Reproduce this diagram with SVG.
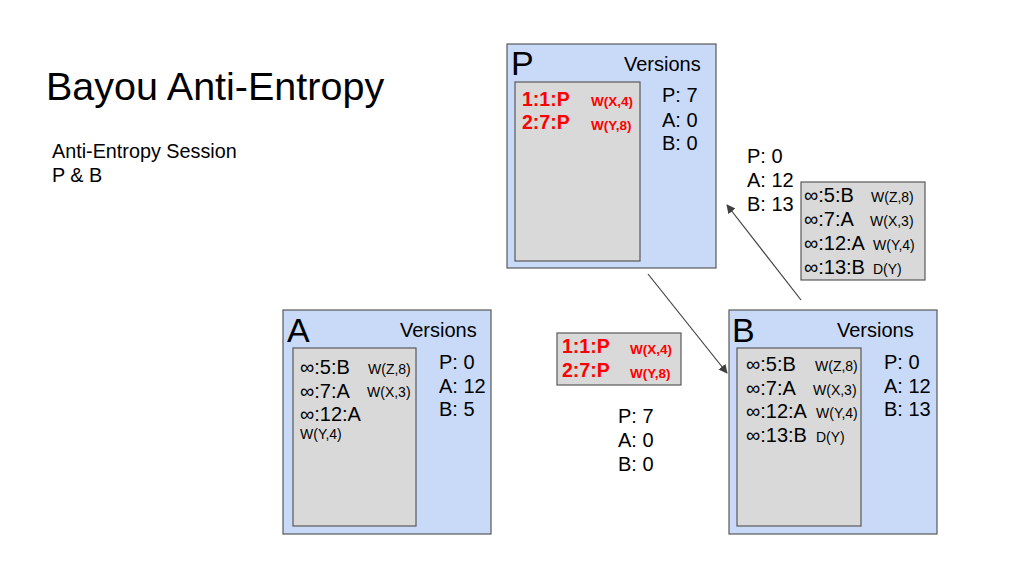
<svg xmlns="http://www.w3.org/2000/svg" width="1024" height="576" viewBox="0 0 1024 576">
<defs>
<style>
text{font-family:"Liberation Sans",Arial,sans-serif;fill:#000}
.outer{fill:#c9daf8;stroke:#595959;stroke-width:1.2}
.inner{fill:#d9d9d9;stroke:#595959;stroke-width:1.2}
.big{font-size:34px}
.ver{font-size:20px}
.e{font-size:20px}
.s{font-size:14px}
.re{font-size:19.5px;font-weight:bold;fill:#ff0000}
.rs{font-size:13.5px;font-weight:bold;fill:#ff0000}
.conn{stroke:#404040;stroke-width:1.2;fill:none}
</style>
<marker id="ah" viewBox="0 0 10 10" refX="9" refY="5" markerWidth="9" markerHeight="9" orient="auto" markerUnits="userSpaceOnUse">
<path d="M0,0 L10,5 L0,10 z" fill="#404040"/>
</marker>
</defs>
<rect width="1024" height="576" fill="#ffffff"/>
<g id="title">
<text x="46" y="100" font-size="39.5">Bayou Anti-Entropy</text>
<text x="52" y="158" font-size="19.8">Anti-Entropy Session</text>
<text x="52" y="182" font-size="19.8">P &amp; B</text>
</g>
<g id="node-P">
<rect class="outer" x="507" y="44" width="209" height="224"/>
<rect class="inner" x="515" y="82" width="125" height="179"/>
<text class="big" x="511" y="75">P</text>
<text class="ver" x="624" y="71">Versions</text>
<text class="re" x="522" y="106">1:1:P</text>
<text class="rs" x="591" y="106">W(X,4)</text>
<text class="re" x="522" y="129">2:7:P</text>
<text class="rs" x="591" y="130">W(Y,8)</text>
<text class="e" x="662" y="102">P: 7</text>
<text class="e" x="662" y="127">A: 0</text>
<text class="e" x="662" y="150">B: 0</text>
</g>
<g id="msg-B-to-P">
<text class="e" x="747" y="163">P: 0</text>
<text class="e" x="747" y="187">A: 12</text>
<text class="e" x="747" y="211">B: 13</text>
<rect class="inner" x="801" y="182" width="124" height="98"/>
<text class="e" x="804" y="202">∞:5:B</text>
<text class="s" x="871" y="202">W(Z,8)</text>
<text class="e" x="804" y="226">∞:7:A</text>
<text class="s" x="870" y="226">W(X,3)</text>
<text class="e" x="804" y="250">∞:12:A</text>
<text class="s" x="873" y="250">W(Y,4)</text>
<text class="e" x="804" y="274">∞:13:B</text>
<text class="s" x="873" y="274">D(Y)</text>
</g>
<g id="node-A">
<rect class="outer" x="283" y="310" width="208" height="224"/>
<rect class="inner" x="293" y="348" width="123" height="178"/>
<text class="big" x="287" y="342">A</text>
<text class="ver" x="400" y="337">Versions</text>
<text class="e" x="439" y="369">P: 0</text>
<text class="e" x="439" y="393">A: 12</text>
<text class="e" x="439" y="416">B: 5</text>
<text class="e" x="300" y="374">∞:5:B</text>
<text class="s" x="368" y="374">W(Z,8)</text>
<text class="e" x="300" y="398">∞:7:A</text>
<text class="s" x="367" y="397">W(X,3)</text>
<text class="e" x="300" y="421">∞:12:A</text>
<text class="s" x="300" y="439">W(Y,4)</text>
</g>
<g id="msg-P-to-B">
<rect class="inner" x="557" y="333" width="124" height="52"/>
<text class="re" x="562" y="353">1:1:P</text>
<text class="rs" x="630" y="354">W(X,4)</text>
<text class="re" x="562" y="377">2:7:P</text>
<text class="rs" x="630" y="378">W(Y,8)</text>
<text class="e" x="618" y="423">P: 7</text>
<text class="e" x="618" y="447">A: 0</text>
<text class="e" x="618" y="471">B: 0</text>
</g>
<g id="node-B">
<rect class="outer" x="729" y="310" width="208" height="224"/>
<rect class="inner" x="737" y="348" width="124" height="178"/>
<text class="big" x="732" y="342">B</text>
<text class="ver" x="837" y="337">Versions</text>
<text class="e" x="884" y="369">P: 0</text>
<text class="e" x="884" y="393">A: 12</text>
<text class="e" x="884" y="416">B: 13</text>
<text class="e" x="746" y="371">∞:5:B</text>
<text class="s" x="815" y="371">W(Z,8)</text>
<text class="e" x="746" y="395">∞:7:A</text>
<text class="s" x="813" y="395">W(X,3)</text>
<text class="e" x="746" y="418">∞:12:A</text>
<text class="s" x="816" y="418">W(Y,4)</text>
<text class="e" x="746" y="442">∞:13:B</text>
<text class="s" x="816" y="442">D(Y)</text>
</g>
<g id="connectors">
<line class="conn" x1="801" y1="300" x2="727" y2="205" marker-end="url(#ah)"/>
<line class="conn" x1="648" y1="274" x2="727" y2="373" marker-end="url(#ah)"/>
</g>
</svg>
